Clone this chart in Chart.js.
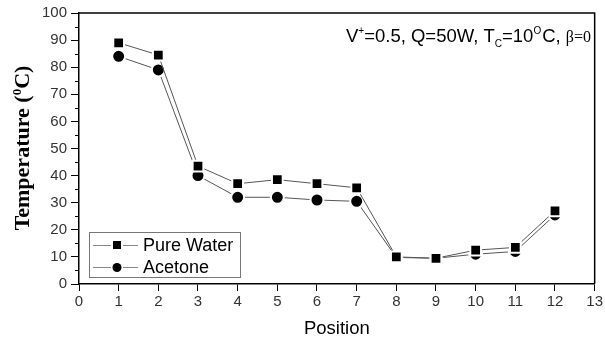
<!DOCTYPE html>
<html>
<head>
<meta charset="utf-8">
<script src="https://cdn.jsdelivr.net/npm/chart.js@4.4.1/dist/chart.umd.min.js"></script>
<style>
  html, body { margin: 0; padding: 0; background: #fff; }
  #wrap { width: 605px; height: 340px; }
</style>
</head>
<body>
<div id="wrap"><canvas id="chart" width="605" height="340"></canvas></div>
<script>
const positions = [1, 2, 3, 4, 5, 6, 7, 8, 9, 10, 11, 12];
const pureWater = [89, 84.5, 43.5, 37, 38.5, 37, 35.5, 10, 9.5, 12.5, 13.5, 27];
const acetone = [84, 79, 40, 32, 32, 31, 30.5, 9.8, 9.5, 11, 12, 25.5];
const seriesNames = ['Pure Water', 'Acetone'];
const xTicks = [0, 1, 2, 3, 4, 5, 6, 7, 8, 9, 10, 11, 12, 13];
const yTicks = [0, 10, 20, 30, 40, 50, 60, 70, 80, 90, 100];

const SANS = 'Arial, "Liberation Sans", sans-serif';
const SERIF = '"Times New Roman", "Liberation Serif", serif';

function toPoints(vals) {
    return positions.map((p, i) => ({ x: p, y: vals[i] }));
}

// draws a run of text pieces, each with its own font and vertical shift
function drawRuns(ctx, runs, x, y) {
    runs.forEach(r => {
        ctx.font = r.font;
        ctx.fillText(r.text, x, y + (r.dy || 0));
        x += ctx.measureText(r.text).width + (r.gap || 0);
    });
    return x;
}

const extras = {
    id: 'extras',
    afterDraw(chart) {
        const ctx = chart.ctx;
        const area = chart.chartArea;
        const ys = chart.scales.y;
        ctx.save();

        // frame top and right
        ctx.strokeStyle = '#000';
        ctx.lineWidth = 1.5;
        ctx.beginPath();
        ctx.moveTo(area.left, area.top);
        ctx.lineTo(area.right, area.top);
        ctx.lineTo(area.right, area.bottom);
        ctx.stroke();

        // minor ticks on y
        ctx.lineWidth = 1;
        ctx.beginPath();
        for (let v = 5; v < 100; v += 10) {
            const py = Math.round(ys.getPixelForValue(v)) + 0.5;
            ctx.moveTo(area.left, py);
            ctx.lineTo(area.left - 4, py);
        }
        ctx.stroke();

        // annotation
        ctx.fillStyle = '#000';
        ctx.textBaseline = 'alphabetic';
        ctx.textAlign = 'left';
        const f = '18.5px ' + SANS;
        const small = '10px ' + SANS;
        drawRuns(ctx, [
            { text: 'V', font: f },
            { text: '+', font: small, dy: -8 },
            { text: '=0.5, Q=50W, T', font: f },
            { text: 'C', font: small, dy: 5 },
            { text: '=10', font: f },
            { text: 'O', font: small, dy: -8, gap: 1 },
            { text: 'C, ', font: f },
            { text: '\u03b2=0', font: '16px ' + SERIF }
        ], 346, 42);

        // y title
        ctx.save();
        ctx.translate(29, 148);
        ctx.rotate(-Math.PI / 2);
        const big = 'bold 22px ' + SERIF;
        const sup = 'bold 13px ' + SERIF;
        ctx.font = big;
        let w = ctx.measureText('Temperature (').width + ctx.measureText('C)').width;
        ctx.font = sup;
        w += ctx.measureText('0').width;
        drawRuns(ctx, [
            { text: 'Temperature (', font: big },
            { text: '0', font: sup, dy: -8 },
            { text: 'C)', font: big }
        ], -w / 2, 0);
        ctx.restore();

        // x title
        ctx.font = '18.5px ' + SANS;
        ctx.textAlign = 'center';
        ctx.fillText('Position', (area.left + area.right) / 2, 334);

        // legend
        const lx = 89, ly = 232, lw = 151, lh = 45;
        ctx.fillStyle = '#fff';
        ctx.fillRect(lx, ly, lw, lh);
        ctx.strokeStyle = '#777';
        ctx.lineWidth = 1;
        ctx.strokeRect(lx + 0.5, ly + 0.5, lw, lh);
        const rows = [245, 267];
        chart.data.datasets.forEach((ds, i) => {
            const ry = rows[i];
            ctx.strokeStyle = '#888';
            ctx.beginPath();
            ctx.moveTo(93, ry + 0.5);
            ctx.lineTo(111, ry + 0.5);
            ctx.moveTo(123, ry + 0.5);
            ctx.lineTo(138, ry + 0.5);
            ctx.stroke();
            ctx.fillStyle = '#000';
            ctx.beginPath();
            if (ds.pointStyle === 'rect') {
                ctx.rect(113, ry - 4, 8, 8);
            } else {
                ctx.arc(117, ry + 0.5, 4.5, 0, Math.PI * 2);
            }
            ctx.fill();
            ctx.font = '18px ' + SANS;
            ctx.textAlign = 'left';
            ctx.textBaseline = 'middle';
            ctx.fillText(ds.label, 143, ry + 1);
        });

        ctx.restore();
    }
};

new Chart(document.getElementById('chart'), {
    type: 'line',
    data: {
        datasets: [
            {
                label: seriesNames[0],
                data: toPoints(pureWater),
                borderColor: '#555',
                borderWidth: 1,
                pointStyle: 'rect',
                pointRadius: 7.6,
                pointBackgroundColor: '#000',
                pointBorderColor: '#fff',
                pointBorderWidth: 2
            },
            {
                label: seriesNames[1],
                data: toPoints(acetone),
                borderColor: '#555',
                borderWidth: 1,
                pointStyle: 'circle',
                pointRadius: 6.5,
                pointBackgroundColor: '#000',
                pointBorderColor: '#fff',
                pointBorderWidth: 2
            }
        ]
    },
    options: {
        responsive: false,
        animation: false,
        layout: { padding: { top: 12, right: 8, left: 0, bottom: 0 } },
        plugins: { legend: { display: false }, tooltip: { enabled: false } },
        scales: {
            x: {
                type: 'linear',
                min: 0,
                max: 13,
                afterBuildTicks: s => { s.ticks = xTicks.map(v => ({ value: v })); },
                afterFit: s => { s.height = 56; },
                grid: { drawOnChartArea: false, tickLength: 7, color: '#000' },
                border: { color: '#000', width: 1.5 },
                ticks: { font: { family: SANS, size: 15 }, color: '#333', padding: 2, maxRotation: 0 }
            },
            y: {
                min: 0,
                max: 100,
                afterBuildTicks: s => { s.ticks = yTicks.map(v => ({ value: v })); },
                afterFit: s => { s.width = 79; },
                grid: { drawOnChartArea: false, tickLength: 8, color: '#000' },
                border: { color: '#000', width: 1.5 },
                ticks: { font: { family: SANS, size: 15 }, color: '#333', padding: 4 }
            }
        }
    },
    plugins: [extras]
});
</script>
</body>
</html>
